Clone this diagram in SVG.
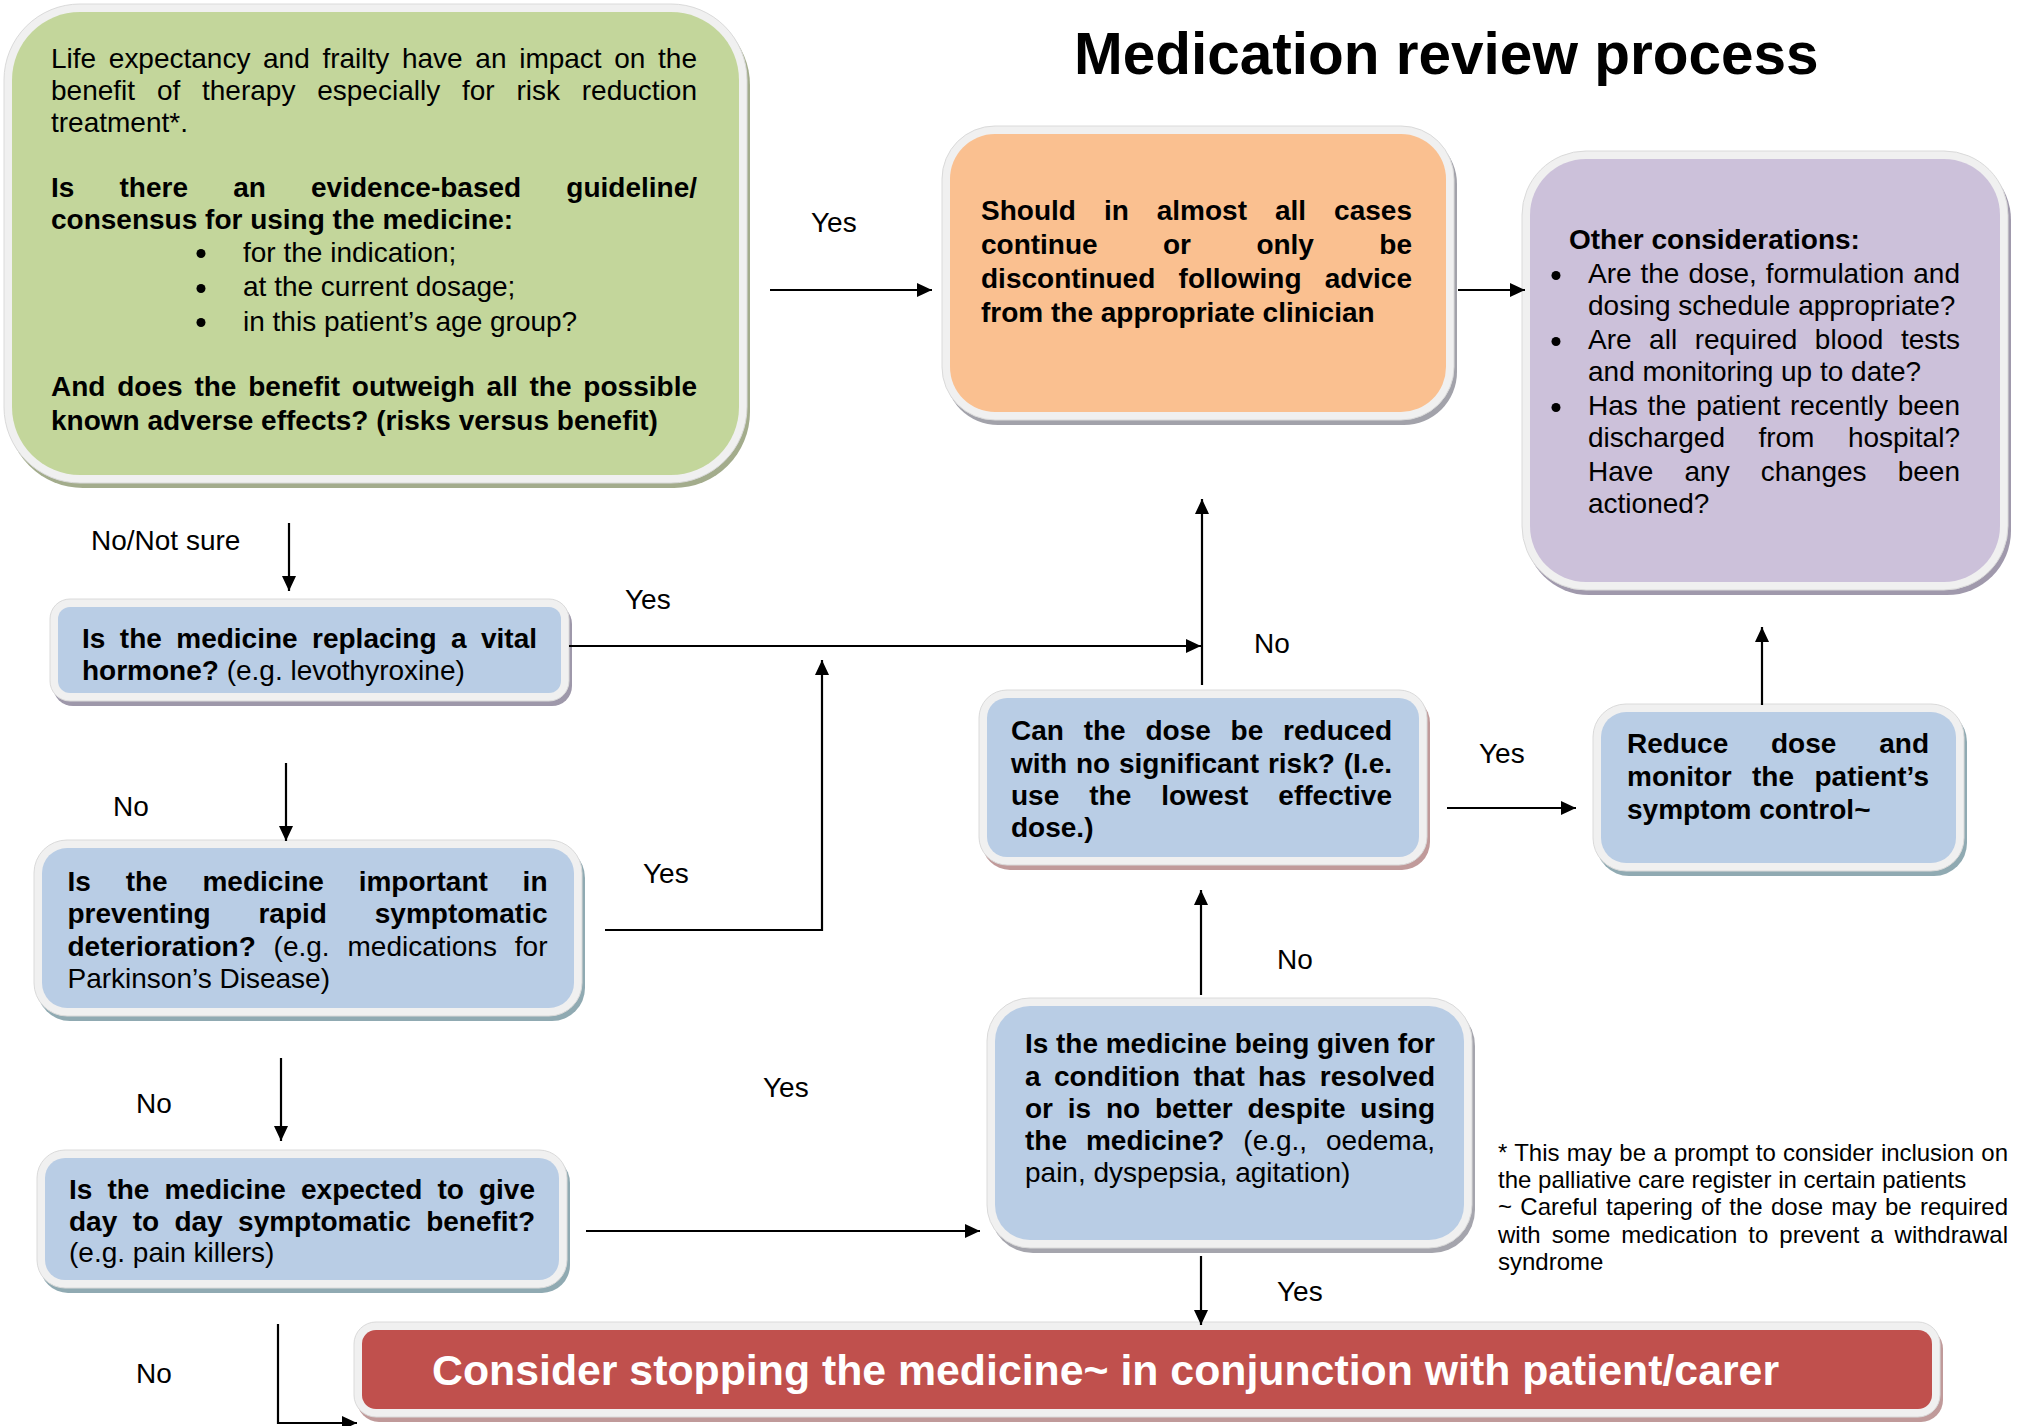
<svg xmlns="http://www.w3.org/2000/svg" width="2017" height="1426" viewBox="0 0 2017 1426">
<defs>
<style>
.t{font-family:"Liberation Sans",Arial,sans-serif;font-size:28px;fill:#000}
.b{font-weight:bold}
.n{font-weight:normal}
.rim{fill:#F0F0F0;stroke:#DADADA;stroke-width:1}
.conn{stroke:#000;stroke-width:2.2;fill:none;marker-end:url(#arr)}
.lbl{font-family:"Liberation Sans",Arial,sans-serif;font-size:28px;fill:#000}
.fn{font-family:"Liberation Sans",Arial,sans-serif;font-size:24px;fill:#000}
</style>
<marker id="arr" markerUnits="userSpaceOnUse" markerWidth="16" markerHeight="14" refX="15" refY="7" orient="auto">
<path d="M0,0 L15,7 L0,14 z" fill="#000"/>
</marker>
</defs>
<rect width="2017" height="1426" fill="#FFFFFF"/>

<text x="1074" y="74" style="font-family:'Liberation Sans',Arial,sans-serif;font-size:58.5px;font-weight:bold;fill:#000">Medication review process</text>

<g id="node-green">
<rect x="7" y="9" width="743" height="479" rx="76" fill="#A3AC8C"/>
<rect class="rim" x="4" y="4" width="743" height="479" rx="76"/>
<rect x="12" y="12" width="727" height="463" rx="68" fill="#C3D69B"/>
<text class="t" x="51" y="67.5" textLength="646" lengthAdjust="spacing" word-spacing="4.9">Life expectancy and frailty have an impact on the</text>
<text class="t" x="51" y="99.5" textLength="646" lengthAdjust="spacing" word-spacing="14">benefit of therapy especially for risk reduction</text>
<text class="t" x="51" y="131.5">treatment*.</text>
<text class="t b" x="51" y="196.5" textLength="646" lengthAdjust="spacing" word-spacing="37.4">Is there an evidence-based guideline/</text>
<text class="t b" x="51" y="228.5">consensus for using the medicine:</text>
<circle cx="201" cy="253.5" r="4.5" fill="#000"/>
<circle cx="201" cy="288.5" r="4.5" fill="#000"/>
<circle cx="201" cy="322.5" r="4.5" fill="#000"/>
<text class="t" x="243" y="261.5">for the indication;</text>
<text class="t" x="243" y="296">at the current dosage;</text>
<text class="t" x="243" y="330.5">in this patient’s age group?</text>
<text class="t b" x="51" y="395.5" textLength="646" lengthAdjust="spacing" word-spacing="4">And does the benefit outweigh all the possible</text>
<text class="t b" x="51" y="429.5">known adverse effects? (risks versus benefit)</text>
</g>

<g id="node-orange">
<rect x="945" y="131" width="512" height="294" rx="53" fill="#A2A2AA"/>
<rect class="rim" x="942" y="126" width="512" height="294" rx="53"/>
<rect x="950" y="134" width="496" height="278" rx="45" fill="#FAC090"/>
<text class="t b" x="981" y="219.5" textLength="431" lengthAdjust="spacing" word-spacing="20.2">Should in almost all cases</text>
<text class="t b" x="981" y="253.5" textLength="431" lengthAdjust="spacing" word-spacing="57.6">continue or only be</text>
<text class="t b" x="981" y="287.5" textLength="431" lengthAdjust="spacing" word-spacing="15.5">discontinued following advice</text>
<text class="t b" x="981" y="321.5">from the appropriate clinician</text>
</g>

<g id="node-purple">
<rect x="1525" y="156" width="486" height="439" rx="64" fill="#A099AC"/>
<rect class="rim" x="1522" y="151" width="486" height="439" rx="64"/>
<rect x="1530" y="159" width="470" height="423" rx="56" fill="#CCC1DA"/>
<text class="t b" x="1569" y="249">Other considerations:</text>
<circle cx="1556" cy="275.5" r="4.5" fill="#000"/>
<circle cx="1556" cy="341.5" r="4.5" fill="#000"/>
<circle cx="1556" cy="407.5" r="4.5" fill="#000"/>
<text class="t" x="1588" y="282.5" textLength="372" lengthAdjust="spacing" word-spacing="1.2">Are the dose, formulation and</text>
<text class="t" x="1588" y="314.5">dosing schedule appropriate?</text>
<text class="t" x="1588" y="349" textLength="372" lengthAdjust="spacing" word-spacing="9.75">Are all required blood tests</text>
<text class="t" x="1588" y="381">and monitoring up to date?</text>
<text class="t" x="1588" y="414.5" textLength="372" lengthAdjust="spacing" word-spacing="1.95">Has the patient recently been</text>
<text class="t" x="1588" y="447" textLength="372" lengthAdjust="spacing" word-spacing="25.7">discharged from hospital?</text>
<text class="t" x="1588" y="480.5" textLength="372" lengthAdjust="spacing" word-spacing="23.3">Have any changes been</text>
<text class="t" x="1588" y="512.5">actioned?</text>
</g>

<g id="node-hormone">
<rect x="53" y="604" width="519" height="102" rx="20" fill="#9E98AA"/>
<rect class="rim" x="50" y="599" width="519" height="102" rx="20"/>
<rect x="58" y="607" width="503" height="86" rx="12" fill="#B9CDE5"/>
<text class="t b" x="82" y="647.5" textLength="455" lengthAdjust="spacing" word-spacing="6.7">Is the medicine replacing a vital</text>
<text class="t b" x="82" y="679.5">hormone?<tspan class="n"> (e.g. levothyroxine)</tspan></text>
</g>

<g id="node-deterioration">
<rect x="37" y="845" width="548" height="176" rx="33" fill="#90AAB2"/>
<rect class="rim" x="34" y="840" width="548" height="176" rx="33"/>
<rect x="42" y="848" width="532" height="160" rx="25" fill="#B9CDE5"/>
<text class="t b" x="67.5" y="890.5" textLength="480" lengthAdjust="spacing" word-spacing="27">Is the medicine important in</text>
<text class="t b" x="67.5" y="922.5" textLength="480" lengthAdjust="spacing" word-spacing="40">preventing rapid symptomatic</text>
<text class="t b" x="67.5" y="955.5" textLength="480" lengthAdjust="spacing" word-spacing="10.1">deterioration?<tspan class="n"> (e.g. medications for</tspan></text>
<text class="t" x="67.5" y="987.5">Parkinson’s Disease)</text>
</g>

<g id="node-daytoday">
<rect x="40" y="1155" width="530" height="138" rx="28" fill="#90AAB2"/>
<rect class="rim" x="37" y="1150" width="530" height="138" rx="28"/>
<rect x="45" y="1158" width="514" height="122" rx="20" fill="#B9CDE5"/>
<text class="t b" x="69" y="1198.5" textLength="466" lengthAdjust="spacing" word-spacing="7.3">Is the medicine expected to give</text>
<text class="t b" x="69" y="1230.5" textLength="466" lengthAdjust="spacing" word-spacing="7.6">day to day symptomatic benefit?</text>
<text class="t" x="69" y="1261.5">(e.g. pain killers)</text>
</g>

<g id="node-reduce-q">
<rect x="982" y="695" width="448" height="175" rx="28" fill="#C09A9A"/>
<rect class="rim" x="979" y="690" width="448" height="175" rx="28"/>
<rect x="987" y="698" width="432" height="159" rx="20" fill="#B9CDE5"/>
<text class="t b" x="1011" y="739.5" textLength="381" lengthAdjust="spacing" word-spacing="12">Can the dose be reduced</text>
<text class="t b" x="1011" y="772.5" textLength="381" lengthAdjust="spacing" word-spacing="1.1">with no significant risk? (I.e.</text>
<text class="t b" x="1011" y="804.5" textLength="381" lengthAdjust="spacing" word-spacing="22.2">use the lowest effective</text>
<text class="t b" x="1011" y="836.5">dose.)</text>
</g>

<g id="node-reduce">
<rect x="1596" y="709" width="371" height="167" rx="33" fill="#90AAB2"/>
<rect class="rim" x="1593" y="704" width="371" height="167" rx="33"/>
<rect x="1601" y="712" width="355" height="151" rx="25" fill="#B9CDE5"/>
<text class="t b" x="1627" y="752.5" textLength="302" lengthAdjust="spacing" word-spacing="35">Reduce dose and</text>
<text class="t b" x="1627" y="785.5" textLength="302" lengthAdjust="spacing" word-spacing="12.5">monitor the patient’s</text>
<text class="t b" x="1627" y="818.5">symptom control~</text>
</g>

<g id="node-resolved">
<rect x="990" y="1003" width="485" height="250" rx="43" fill="#A5A5AD"/>
<rect class="rim" x="987" y="998" width="485" height="250" rx="43"/>
<rect x="995" y="1006" width="469" height="234" rx="35" fill="#B9CDE5"/>
<text class="t b" x="1025" y="1052.5" textLength="410" lengthAdjust="spacing">Is the medicine being given for</text>
<text class="t b" x="1025" y="1085.5" textLength="410" lengthAdjust="spacing" word-spacing="5.6">a condition that has resolved</text>
<text class="t b" x="1025" y="1117.5" textLength="410" lengthAdjust="spacing" word-spacing="7">or is no better despite using</text>
<text class="t b" x="1025" y="1149.5" textLength="410" lengthAdjust="spacing" word-spacing="11.1">the medicine?<tspan class="n"> (e.g., oedema,</tspan></text>
<text class="t" x="1025" y="1181.5">pain, dyspepsia, agitation)</text>
</g>

<g id="node-stop">
<rect x="357" y="1327" width="1586" height="95" rx="22" fill="#C09A9A"/>
<rect class="rim" x="354" y="1322" width="1586" height="95" rx="22"/>
<rect x="362" y="1330" width="1570" height="79" rx="14" fill="#C0504D"/>
<text x="432" y="1385" style="font-family:'Liberation Sans',Arial,sans-serif;font-size:42.8px;font-weight:bold;fill:#FFFFFF">Consider stopping the medicine~ in conjunction with patient/carer</text>
</g>

<g id="footnote">
<text class="fn" x="1498" y="1160.5" textLength="510" lengthAdjust="spacing" word-spacing="0.7">* This may be a prompt to consider inclusion on</text>
<text class="fn" x="1498" y="1187.5">the palliative care register in certain patients</text>
<text class="fn" x="1498" y="1215" textLength="510" lengthAdjust="spacing" word-spacing="1.6">~ Careful tapering of the dose may be required</text>
<text class="fn" x="1498" y="1242.5" textLength="510" lengthAdjust="spacing" word-spacing="4.3">with some medication to prevent a withdrawal</text>
<text class="fn" x="1498" y="1270">syndrome</text>
</g>

<g id="connectors">
<path class="conn" d="M770,290 H932"/>
<path class="conn" d="M1458,290 H1525"/>
<path class="conn" d="M289,523 V591"/>
<path class="conn" d="M569,646 H1201"/>
<path class="conn" d="M1202,685 V499"/>
<path class="conn" d="M605,930 H822 V660"/>
<path class="conn" d="M286,763 V841"/>
<path class="conn" d="M281,1058 V1141"/>
<path class="conn" d="M586,1231 H980"/>
<path class="conn" d="M278,1324 V1423 H357"/>
<path class="conn" d="M1201,995 V890"/>
<path class="conn" d="M1447,808 H1576"/>
<path class="conn" d="M1762,705 V627"/>
<path class="conn" d="M1201,1256 V1325"/>
</g>

<g id="labels">
<text class="lbl" x="811" y="231.5">Yes</text>
<text class="lbl" x="91" y="549.5">No/Not sure</text>
<text class="lbl" x="625" y="608.5">Yes</text>
<text class="lbl" x="1254" y="652.5">No</text>
<text class="lbl" x="113" y="815.5">No</text>
<text class="lbl" x="643" y="882.5">Yes</text>
<text class="lbl" x="136" y="1112.5">No</text>
<text class="lbl" x="763" y="1096.5">Yes</text>
<text class="lbl" x="136" y="1382.5">No</text>
<text class="lbl" x="1479" y="762.5">Yes</text>
<text class="lbl" x="1277" y="968.5">No</text>
<text class="lbl" x="1277" y="1300.5">Yes</text>
</g>
</svg>
